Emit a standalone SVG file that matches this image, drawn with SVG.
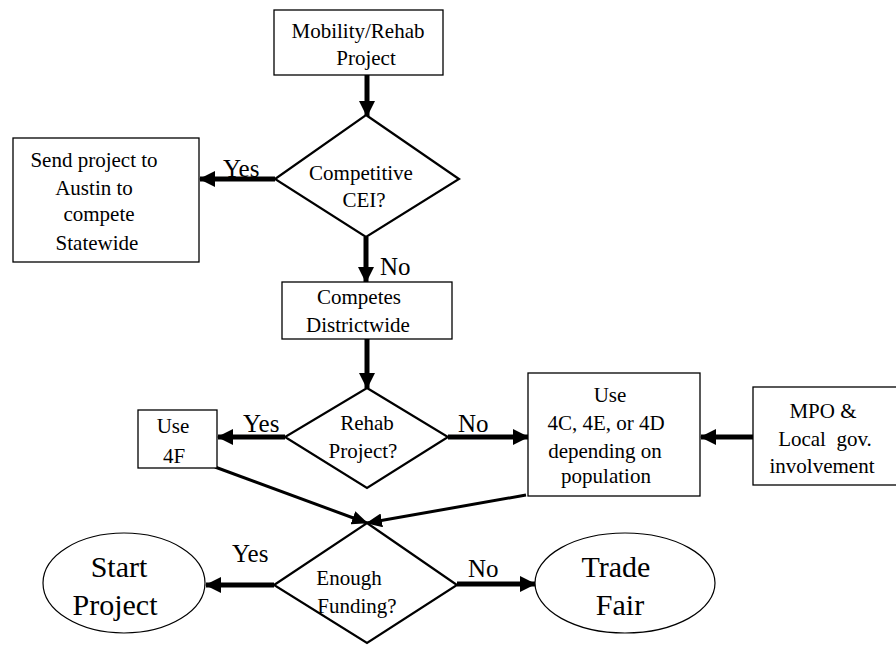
<svg xmlns="http://www.w3.org/2000/svg" width="896" height="646" viewBox="0 0 896 646">
<style>
.box{fill:#fff;stroke:#000;stroke-width:1.3}
.dia{fill:#fff;stroke:#000;stroke-width:2.2}
.ell{fill:#fff;stroke:#000;stroke-width:1.2}
text{font-family:'Liberation Serif','DejaVu Serif',serif}
.t{font-size:21px;fill:#000;text-anchor:middle}
.big{font-size:30px}
.lbl{font-size:25px;fill:#000}
.thick{stroke:#000;stroke-width:5;fill:none}
.thin{stroke:#000;stroke-width:3;fill:none}
</style>
<defs>
<marker id="ah" markerUnits="userSpaceOnUse" markerWidth="16" markerHeight="16" refX="15" refY="8" orient="auto" viewBox="0 0 16 16">
<path d="M0,0 L16,8 L0,16 z" fill="#000"/>
</marker>
<marker id="ahs" markerUnits="userSpaceOnUse" markerWidth="16" markerHeight="14" refX="15" refY="7" orient="auto" viewBox="0 0 16 14">
<path d="M0,0 L16,7 L0,14 z" fill="#000"/>
</marker>
</defs>
<rect width="896" height="646" fill="#fff"/>
<g id="connectors" font-family="Liberation Serif, DejaVu Serif, serif">
<line class="thick" x1="367" y1="75" x2="367" y2="116" marker-end="url(#ah)"/>
<line class="thick" x1="275" y1="179" x2="200" y2="179" marker-end="url(#ah)"/>
<line class="thick" x1="366" y1="237" x2="366" y2="282" marker-end="url(#ah)"/>
<line class="thick" x1="367" y1="339" x2="367" y2="388" marker-end="url(#ah)"/>
<line class="thick" x1="285" y1="437" x2="218" y2="437" marker-end="url(#ah)"/>
<line class="thick" x1="448" y1="437" x2="528" y2="437" marker-end="url(#ah)"/>
<line class="thick" x1="753" y1="437" x2="701" y2="437" marker-end="url(#ah)"/>
<line class="thin" x1="215" y1="467" x2="367" y2="523" marker-end="url(#ahs)"/>
<line class="thin" x1="526" y1="495" x2="367" y2="523" marker-end="url(#ahs)"/>
<line class="thick" x1="274" y1="585" x2="206" y2="585" marker-end="url(#ah)"/>
<line class="thick" x1="457" y1="584" x2="535" y2="584" marker-end="url(#ah)"/>
<text class="lbl" x="223" y="177">Yes</text>
<text class="lbl" x="380" y="275">No</text>
<text class="lbl" x="243" y="432">Yes</text>
<text class="lbl" x="458" y="432">No</text>
<text class="lbl" x="232" y="562">Yes</text>
<text class="lbl" x="468" y="577">No</text>
</g>
<g id="mobility">
<rect class="box" x="274" y="10" width="169" height="65"/>
<text class="t" x="358" y="38">Mobility/Rehab</text>
<text class="t" x="366" y="65">Project</text>
</g>
<g id="competitive">
<polygon class="dia" points="366,115 459,179 366,237 275,179"/>
<text class="t" x="361" y="180">Competitive</text>
<text class="t" x="364" y="207">CEI?</text>
</g>
<g id="send">
<rect class="box" x="13" y="138" width="186" height="124"/>
<text class="t" x="94" y="167">Send project to</text>
<text class="t" x="94" y="195">Austin to</text>
<text class="t" x="99" y="221">compete</text>
<text class="t" x="97" y="250">Statewide</text>
</g>
<g id="competes">
<rect class="box" x="282" y="282" width="170" height="57"/>
<text class="t" x="359" y="304">Competes</text>
<text class="t" x="358" y="332">Districtwide</text>
</g>
<g id="rehab">
<polygon class="dia" points="367,388 448,437 367,488 285,437"/>
<text class="t" x="367" y="430">Rehab</text>
<text class="t" x="363" y="458">Project?</text>
</g>
<g id="use4f">
<rect class="box" x="138" y="410" width="79" height="58"/>
<text class="t" x="173" y="433">Use</text>
<text class="t" x="174" y="463">4F</text>
</g>
<g id="use4c">
<rect class="box" x="528" y="373" width="172" height="123"/>
<text class="t" x="610" y="402">Use</text>
<text class="t" x="606" y="430">4C, 4E, or 4D</text>
<text class="t" x="605" y="458">depending on</text>
<text class="t" x="606" y="483">population</text>
</g>
<g id="mpo">
<rect class="box" x="753" y="387" width="150" height="98"/>
<text class="t" x="823" y="418">MPO &amp;</text>
<text class="t" x="825" y="446" xml:space="preserve">Local  gov.</text>
<text class="t" x="822" y="473">involvement</text>
</g>
<g id="funding">
<polygon class="dia" points="367,523 457,585 367,643 274,585"/>
<text class="t" x="349" y="585">Enough</text>
<text class="t" x="357" y="613">Funding?</text>
</g>
<g id="start">
<ellipse class="ell" cx="124" cy="583" rx="81" ry="50"/>
<text class="t big" x="119" y="577">Start</text>
<text class="t big" x="115" y="615">Project</text>
</g>
<g id="trade">
<ellipse class="ell" cx="625" cy="583" rx="90" ry="50"/>
<text class="t big" x="616" y="577">Trade</text>
<text class="t big" x="620" y="615">Fair</text>
</g>
</svg>
